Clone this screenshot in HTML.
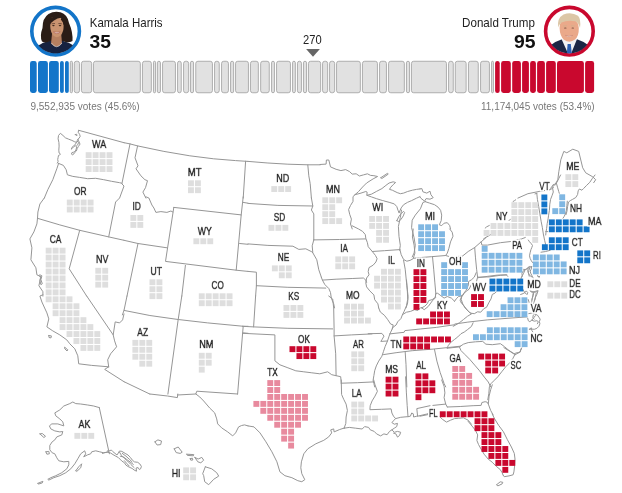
<!DOCTYPE html>
<html lang="en"><head><meta charset="utf-8"><title>Election results map</title>
<style>
html,body{margin:0;padding:0;background:#fff;}
body{width:622px;height:493px;overflow:hidden;position:relative;font-family:"Liberation Sans",Arial,sans-serif;}
svg{position:absolute;left:0;top:0;display:block}
.lb{font-family:"Liberation Sans",Arial,sans-serif;font-size:10.1px;fill:#222;text-anchor:middle;font-weight:400}
.lh{stroke:#fff;stroke-width:2.4px;stroke-linejoin:round;fill:#fff}
.lt{stroke:#222;stroke-width:0.68px;stroke-linejoin:round}
.bd{fill:none;stroke:#969696;stroke-width:1;stroke-linejoin:round;stroke-linecap:round}
.nm{font-size:12.4px;fill:#222}
.ev{font-size:19px;font-weight:700;fill:#111}
.vt{font-size:11.6px;fill:#777}
</style></head><body>
<svg width="622" height="493" viewBox="0 0 622 493">

<defs>
<clipPath id="cl"><circle cx="55.6" cy="31.2" r="22.3"/></clipPath>
<clipPath id="cr"><circle cx="569.4" cy="31.2" r="22.3"/></clipPath>
<filter id="bl" x="-10%" y="-10%" width="120%" height="120%"><feGaussianBlur stdDeviation="0.55"/></filter>
<filter id="halo" x="-30%" y="-30%" width="160%" height="160%"><feMorphology in="SourceAlpha" operator="dilate" radius="1.1" result="d"/><feGaussianBlur in="d" stdDeviation="0.35" result="b"/><feComponentTransfer in="b" result="a"><feFuncA type="linear" slope="3"/></feComponentTransfer><feFlood flood-color="#fff"/><feComposite in2="a" operator="in" result="w"/><feMerge><feMergeNode in="w"/><feMergeNode in="SourceGraphic"/></feMerge></filter>
</defs>
<circle cx="55.6" cy="31.2" r="23.8" fill="#fff" stroke="#1375c9" stroke-width="3.6"/>
<g clip-path="url(#cl)"><g filter="url(#bl)">
<path d="M35 58 L36 47 Q43 42 50 40.5 L62 40.5 Q70 42.5 76 47 L77 58 Z" fill="#18233f"/>
<path d="M42 41.5 Q39.5 36 42.5 28 Q42.5 18 48.5 14 Q54 10.8 60.5 12.3 Q67.5 14.5 69 23 Q73 32 72.5 41 Q68 43.5 63 41 L50 41 Q46 43.5 42 41.5 Z" fill="#2a1c18"/>
<path d="M52 34 L51 43.5 Q56.5 50 62 43.5 L61.2 34 Z" fill="#b57f60"/>
<path d="M50.2 26 Q50 17.5 56 16.2 Q63 16 63.6 25.5 Q63.8 32 60.5 35.6 Q57 38.6 53.6 35.8 Q50.4 32.5 50.2 26 Z" fill="#c9936f"/>
<path d="M49.6 25 Q50 16 56.5 15.2 Q60 15 62 17.5 Q57 18.2 54 20.5 Q51 22.5 49.6 25 Z" fill="#2a1c18"/>
<path d="M62 17.5 Q64.6 20.5 64.3 26 Q63 21.5 60.8 19.5 Z" fill="#2a1c18"/>
<ellipse cx="53.4" cy="25.6" rx="1.3" ry="0.6" fill="#3a241c"/><ellipse cx="60" cy="25.6" rx="1.3" ry="0.6" fill="#3a241c"/>
<path d="M51.6 23.8 L55 23.5 M58.4 23.5 L61.8 23.8" stroke="#3a241c" stroke-width="0.6" fill="none"/>
<path d="M53.4 31.8 Q56.8 35.4 60.2 31.8 Q56.8 32.8 53.4 31.8 Z" fill="#f6ebe6" stroke="#a8544e" stroke-width="0.5"/>
<path d="M51.5 43 Q56.5 50.5 62 43" fill="none" stroke="#cfd3da" stroke-width="0.7"/>
</g></g>
<circle cx="569.4" cy="31.2" r="23.8" fill="#fff" stroke="#c9082e" stroke-width="3.6"/>
<g clip-path="url(#cr)"><g filter="url(#bl)">
<path d="M548 58 L549.5 46 Q556 41 562 39.3 L577 39.3 Q584 41.5 589.5 46 L591 58 Z" fill="#1b2645"/>
<path d="M561.5 39 L568 53.5 L571.2 53.5 L577 39 Z" fill="#f2f2f4"/>
<path d="M567.6 44 L570.8 44 L571.9 54 L566.8 54 Z" fill="#2b5fb3"/>
<path d="M559.6 28 Q559.3 19 568 18.5 Q578.6 18.5 578.8 28 Q579 36 575 39.6 Q569.5 43.6 564 39.8 Q559.8 36 559.6 28 Z" fill="#eaa98a"/>
<path d="M558.2 27.5 Q556.8 18 563.5 14.4 Q571.5 11.6 578 15.8 Q581.2 19 580 28 Q578.6 22.5 575 21.3 Q567 20 561.5 22.6 Q559.2 24.5 558.2 27.5 Z" fill="#dcc6a6"/>
<ellipse cx="565.3" cy="27.9" rx="1.3" ry="0.5" fill="#7a5140"/><ellipse cx="572.8" cy="27.9" rx="1.3" ry="0.5" fill="#7a5140"/>
<path d="M563.2 26 L567 25.8 M571 25.8 L574.8 26" stroke="#cdb08a" stroke-width="0.7" fill="none"/>
<path d="M565.4 35.4 Q569 38 572.8 35.4 Q569 36.3 565.4 35.4 Z" fill="#f9efe9" stroke="#c27a68" stroke-width="0.4"/>
</g></g>
<text class="nm" x="89.8" y="26.7" textLength="72.8" lengthAdjust="spacingAndGlyphs">Kamala Harris</text>
<text class="ev" x="89.6" y="47.6" textLength="21.4" lengthAdjust="spacingAndGlyphs">35</text>
<text class="nm" x="462.1" y="26.7" textLength="72.8" lengthAdjust="spacingAndGlyphs">Donald Trump</text>
<text class="ev" x="514" y="47.6" textLength="21.6" lengthAdjust="spacingAndGlyphs">95</text>
<text x="303.1" y="43.8" font-size="12.4" fill="#222" textLength="18.6" lengthAdjust="spacingAndGlyphs">270</text>
<path d="M306.1 48.9 L319.9 48.9 L313 56.7 Z" fill="#666"/>
<text class="vt" x="30.4" y="110" textLength="109.2" lengthAdjust="spacingAndGlyphs">9,552,935 votes (45.6%)</text>
<text class="vt" x="481" y="110" textLength="113.6" lengthAdjust="spacingAndGlyphs">11,174,045 votes (53.4%)</text>

<rect x="30.00" y="61" width="6.70" height="32" rx="2.40" fill="#1375c9"/>
<rect x="38.00" y="61" width="9.90" height="32" rx="2.40" fill="#1375c9"/>
<rect x="49.00" y="61" width="9.80" height="32" rx="2.40" fill="#1375c9"/>
<rect x="60.00" y="61" width="3.80" height="32" rx="1.90" fill="#1375c9"/>
<rect x="65.00" y="61" width="3.80" height="32" rx="1.90" fill="#1375c9"/>
<rect x="70.25" y="61.25" width="2.20" height="31.5" rx="1.15" fill="#e1e1e1" stroke="#9e9e9e" stroke-width="0.8"/>
<rect x="74.25" y="61.25" width="5.30" height="31.5" rx="2.20" fill="#e1e1e1" stroke="#9e9e9e" stroke-width="0.8"/>
<rect x="81.45" y="61.25" width="10.20" height="31.5" rx="2.20" fill="#e1e1e1" stroke="#9e9e9e" stroke-width="0.8"/>
<rect x="93.45" y="61.25" width="46.90" height="31.5" rx="2.20" fill="#e1e1e1" stroke="#9e9e9e" stroke-width="0.8"/>
<rect x="142.45" y="61.25" width="8.90" height="31.5" rx="2.20" fill="#e1e1e1" stroke="#9e9e9e" stroke-width="0.8"/>
<rect x="153.45" y="61.25" width="2.10" height="31.5" rx="1.10" fill="#e1e1e1" stroke="#9e9e9e" stroke-width="0.8"/>
<rect x="157.35" y="61.25" width="3.10" height="31.5" rx="1.60" fill="#e1e1e1" stroke="#9e9e9e" stroke-width="0.8"/>
<rect x="162.55" y="61.25" width="12.90" height="31.5" rx="2.20" fill="#e1e1e1" stroke="#9e9e9e" stroke-width="0.8"/>
<rect x="177.55" y="61.25" width="3.70" height="31.5" rx="1.90" fill="#e1e1e1" stroke="#9e9e9e" stroke-width="0.8"/>
<rect x="183.55" y="61.25" width="5.10" height="31.5" rx="2.20" fill="#e1e1e1" stroke="#9e9e9e" stroke-width="0.8"/>
<rect x="190.45" y="61.25" width="3.10" height="31.5" rx="1.60" fill="#e1e1e1" stroke="#9e9e9e" stroke-width="0.8"/>
<rect x="195.75" y="61.25" width="16.70" height="31.5" rx="2.20" fill="#e1e1e1" stroke="#9e9e9e" stroke-width="0.8"/>
<rect x="214.55" y="61.25" width="4.70" height="31.5" rx="2.20" fill="#e1e1e1" stroke="#9e9e9e" stroke-width="0.8"/>
<rect x="221.55" y="61.25" width="6.90" height="31.5" rx="2.20" fill="#e1e1e1" stroke="#9e9e9e" stroke-width="0.8"/>
<rect x="230.55" y="61.25" width="3.10" height="31.5" rx="1.60" fill="#e1e1e1" stroke="#9e9e9e" stroke-width="0.8"/>
<rect x="235.55" y="61.25" width="12.90" height="31.5" rx="2.20" fill="#e1e1e1" stroke="#9e9e9e" stroke-width="0.8"/>
<rect x="250.45" y="61.25" width="7.90" height="31.5" rx="2.20" fill="#e1e1e1" stroke="#9e9e9e" stroke-width="0.8"/>
<rect x="260.65" y="61.25" width="8.60" height="31.5" rx="2.20" fill="#e1e1e1" stroke="#9e9e9e" stroke-width="0.8"/>
<rect x="271.55" y="61.25" width="2.90" height="31.5" rx="1.50" fill="#e1e1e1" stroke="#9e9e9e" stroke-width="0.8"/>
<rect x="276.55" y="61.25" width="13.90" height="31.5" rx="2.20" fill="#e1e1e1" stroke="#9e9e9e" stroke-width="0.8"/>
<rect x="292.55" y="61.25" width="2.80" height="31.5" rx="1.45" fill="#e1e1e1" stroke="#9e9e9e" stroke-width="0.8"/>
<rect x="297.45" y="61.25" width="4.00" height="31.5" rx="2.05" fill="#e1e1e1" stroke="#9e9e9e" stroke-width="0.8"/>
<rect x="303.45" y="61.25" width="3.10" height="31.5" rx="1.60" fill="#e1e1e1" stroke="#9e9e9e" stroke-width="0.8"/>
<rect x="308.45" y="61.25" width="12.20" height="31.5" rx="2.20" fill="#e1e1e1" stroke="#9e9e9e" stroke-width="0.8"/>
<rect x="322.55" y="61.25" width="5.10" height="31.5" rx="2.20" fill="#e1e1e1" stroke="#9e9e9e" stroke-width="0.8"/>
<rect x="329.55" y="61.25" width="5.10" height="31.5" rx="2.20" fill="#e1e1e1" stroke="#9e9e9e" stroke-width="0.8"/>
<rect x="336.55" y="61.25" width="23.80" height="31.5" rx="2.20" fill="#e1e1e1" stroke="#9e9e9e" stroke-width="0.8"/>
<rect x="362.45" y="61.25" width="15.00" height="31.5" rx="2.20" fill="#e1e1e1" stroke="#9e9e9e" stroke-width="0.8"/>
<rect x="379.55" y="61.25" width="6.90" height="31.5" rx="2.20" fill="#e1e1e1" stroke="#9e9e9e" stroke-width="0.8"/>
<rect x="388.55" y="61.25" width="15.80" height="31.5" rx="2.20" fill="#e1e1e1" stroke="#9e9e9e" stroke-width="0.8"/>
<rect x="406.45" y="61.25" width="3.10" height="31.5" rx="1.60" fill="#e1e1e1" stroke="#9e9e9e" stroke-width="0.8"/>
<rect x="411.45" y="61.25" width="35.00" height="31.5" rx="2.20" fill="#e1e1e1" stroke="#9e9e9e" stroke-width="0.8"/>
<rect x="448.55" y="61.25" width="4.70" height="31.5" rx="2.20" fill="#e1e1e1" stroke="#9e9e9e" stroke-width="0.8"/>
<rect x="455.25" y="61.25" width="10.90" height="31.5" rx="2.20" fill="#e1e1e1" stroke="#9e9e9e" stroke-width="0.8"/>
<rect x="468.45" y="61.25" width="9.80" height="31.5" rx="2.20" fill="#e1e1e1" stroke="#9e9e9e" stroke-width="0.8"/>
<rect x="480.55" y="61.25" width="8.90" height="31.5" rx="2.20" fill="#e1e1e1" stroke="#9e9e9e" stroke-width="0.8"/>
<rect x="491.55" y="61.25" width="1.90" height="31.5" rx="1.00" fill="#e1e1e1" stroke="#9e9e9e" stroke-width="0.8"/>
<rect x="495.10" y="61" width="4.60" height="32" rx="2.30" fill="#c9082e"/>
<rect x="501.10" y="61" width="9.70" height="32" rx="2.40" fill="#c9082e"/>
<rect x="512.20" y="61" width="8.70" height="32" rx="2.40" fill="#c9082e"/>
<rect x="522.10" y="61" width="6.80" height="32" rx="2.40" fill="#c9082e"/>
<rect x="530.10" y="61" width="5.80" height="32" rx="2.40" fill="#c9082e"/>
<rect x="537.10" y="61" width="7.80" height="32" rx="2.40" fill="#c9082e"/>
<rect x="546.10" y="61" width="9.70" height="32" rx="2.40" fill="#c9082e"/>
<rect x="557.00" y="61" width="26.90" height="32" rx="2.40" fill="#c9082e"/>
<rect x="585.10" y="61" width="9.00" height="32" rx="2.40" fill="#c9082e"/>
<g class="bd">
<path d="M78.7 130.3 L124.0 142.7"/>
<path d="M78.6 130.5 L78.2 132.3 L79.6 134.3 L80.2 136.4 L79.2 138.0 L78.0 139.2 L78.6 140.8 L80.0 144.1 L78.4 146.5 L77.2 148.5 L76.4 151.0 L74.3 153.0 L72.7 155.0 L71.5 154.2 L71.9 152.6 L73.5 152.2 L75.2 151.4 L76.1 149.3 L76.8 146.9 L75.2 145.7 L73.5 146.9 L71.9 148.5 L71.5 149.3 L71.7 147.7 L73.5 145.9 L75.3 144.5 L76.4 142.4 L77.2 140.8 L78.0 139.2"/>
<path d="M76.4 142.4 L74.3 141.6 L71.9 140.4 L68.7 139.2 L65.4 137.8 L63.0 135.5 L60.4 133.3 L58.5 135.5 L58.1 138.8 L58.9 142.4 L59.1 146.1 L58.8 150.2 L59.1 153.0 L60.5 154.2 L59.6 154.9 L58.5 155.4 L58.1 157.5 L57.7 159.5 L58.1 161.5 L57.3 163.1"/>
<path d="M75.3 134.6 L76.4 134.2 L77.2 135.2 L76.1 135.5 L75.3 134.6"/>
<path d="M77.2 141.2 L78.4 142.4 L78.0 144.5 L76.8 145.3"/>
<path d="M58.6 163.4 L63.4 165.4 L66.2 169.8 L67.4 174.8 L72.8 176.4 L79.7 177.4 L87.7 178.7 L95.7 178.3 L103.7 179.7 L111.6 181.3 L119.6 182.7 L122.0 183.3"/>
<path d="M58.6 163.4 L56.8 168.8 L52.8 179.7 L47.8 189.7 L44.3 198.1"/>
<path d="M124.0 142.7 L130.0 143.9 L137.6 145.9 L163.9 151.4 L189.8 155.8 L213.7 158.8 L235.6 160.6 L248.0 161.4"/>
<path d="M130.0 143.9 L122.0 183.3"/>
<path d="M137.6 145.9 L135.0 157.8 L138.0 165.8 L136.0 168.8 L140.9 175.8 L144.9 179.7 L147.5 180.7 L145.5 187.7 L142.9 192.1 L145.9 198.1"/>
<path d="M245.6 161.2 L243.2 198.1"/>
<path d="M248.0 161.4 L267.9 163.0 L287.9 164.2 L307.8 164.8 L320.2 164.8"/>
<path d="M307.8 164.8 L308.8 175.8 L310.2 183.7 L311.4 198.1"/>
<path d="M554.8 185.3 L557.8 179.7 L558.8 171.8 L560.8 159.8 L563.8 151.4 L566.8 152.8 L572.8 149.2 L578.7 151.4 L582.7 167.8 L585.7 172.8 L592.7 176.8 L595.7 179.7 L593.7 182.7"/>
<path d="M517.9 198.1 L527.9 193.7 L539.9 191.3 L550.2 189.7 L553.4 187.7"/>
<path d="M44.3 198.0 L39.9 204.0 L37.9 212.0 L37.5 218.3"/>
<path d="M37.5 218.3 L59.8 224.9 L79.7 230.3 L108.7 236.9 L124.0 240.3"/>
<path d="M122.0 184.0 L124.0 186.0 L119.6 198.0 L115.6 202.0 L114.6 207.0 L108.7 236.9"/>
<path d="M37.5 218.3 L36.9 223.9 L33.9 231.9 L29.9 238.9 L31.9 247.8 L30.9 259.8 L35.9 267.8 L36.9 274.8 L40.9 276.7 L38.9 285.7 L42.9 291.7 L42.9 296.1"/>
<path d="M79.7 230.3 L69.2 268.8 L86.7 296.1"/>
<path d="M145.9 196.8 L148.9 198.0 L151.9 205.0 L153.9 208.0 L155.9 212.4 L160.9 211.6 L166.9 212.4 L170.9 211.0 L172.8 212.0"/>
<path d="M173.8 207.4 L241.2 214.9 L236.2 270.2 L165.5 261.4 L173.8 207.4"/>
<path d="M243.2 196.8 L241.2 214.9"/>
<path d="M243.2 202.4 L248.0 203.2"/>
<path d="M239.6 243.5 L248.0 244.3"/>
<path d="M124.0 240.3 L138.0 243.5 L166.9 247.8"/>
<path d="M138.0 243.5 L127.0 296.1"/>
<path d="M185.4 265.4 L181.8 296.1"/>
<path d="M236.2 270.2 L248.0 271.4"/>
<path d="M248.0 203.4 L277.9 205.4 L312.8 206.0"/>
<path d="M311.4 198.0 L312.8 206.0 L311.4 210.0 L313.8 213.9 L313.8 239.9"/>
<path d="M248.0 243.9 L267.9 245.4 L292.9 246.2 L298.8 249.4 L305.8 248.8 L311.8 251.8 L312.8 252.8"/>
<path d="M313.8 239.9 L339.7 239.5 L365.6 238.9"/>
<path d="M313.8 239.9 L312.2 245.8 L312.8 252.8 L316.8 259.8 L318.8 269.8 L321.4 277.3"/>
<path d="M248.0 271.4 L256.4 272.2 L256.4 285.7"/>
<path d="M256.4 285.7 L287.9 287.3 L325.8 288.1"/>
<path d="M256.4 285.7 L255.6 296.1"/>
<path d="M42.9 294.8 L39.9 296.0 L41.9 302.0 L46.9 312.9 L48.8 318.9 L46.9 326.9 L52.8 330.9 L59.8 334.9 L66.8 339.9 L69.8 343.8 L74.8 348.8 L77.8 355.8 L78.7 363.8 L91.7 365.4 L108.7 366.8"/>
<path d="M108.7 366.8 L107.7 359.8 L110.6 353.8 L116.6 346.8 L114.6 340.9 L113.2 334.9"/>
<path d="M86.7 296.0 L113.2 334.9 L115.2 321.9 L119.6 322.9 L122.6 319.9 L124.0 313.9"/>
<path d="M108.7 366.8 L104.7 369.4 L124.0 381.7"/>
<path d="M124.0 310.4 L149.9 315.5 L178.2 319.5 L207.7 322.9 L243.6 326.3 L248.0 326.3"/>
<path d="M181.8 296.0 L178.2 319.5 L167.9 394.1"/>
<path d="M243.2 326.3 L237.6 394.1"/>
<path d="M243.2 332.9 L248.0 333.3"/>
<path d="M124.0 381.7 L149.9 394.1"/>
<path d="M127.0 296.0 L124.0 310.4 L122.4 314.9"/>
<path d="M255.6 296.0 L253.6 326.9"/>
<path d="M242.4 326.3 L253.6 326.9 L287.9 328.3 L332.7 328.9"/>
<path d="M328.7 296.0 L332.7 299.0 L333.7 308.0 L334.1 328.9 L334.1 335.9 L335.7 353.8 L336.1 375.7"/>
<path d="M334.1 335.9 L351.7 334.9 L372.0 333.9"/>
<path d="M242.4 333.3 L274.9 334.9 L274.9 360.8 L279.9 364.8 L287.9 367.8 L295.8 370.8 L303.8 371.8 L311.8 372.8 L319.8 373.8 L327.7 371.8 L331.7 374.7 L336.1 375.7 L340.7 376.7 L341.3 383.7"/>
<path d="M149.9 394.0 L167.5 396.0 L177.4 397.6 L177.8 394.0"/>
<path d="M177.4 395.0 L195.8 394.0 L196.8 391.2 L237.6 394.0"/>
<path d="M195.8 394.0 L199.8 397.0 L203.7 401.0 L209.7 408.0 L214.7 412.9 L216.7 418.9 L217.7 423.9 L221.7 427.9 L227.7 431.9 L232.7 435.9 L235.6 432.9 L238.6 426.9 L241.6 425.5 L244.6 424.9 L248.0 425.9"/>
<path d="M248.0 425.9 L254.0 426.9 L260.0 432.9 L265.9 441.8 L271.9 451.8 L276.9 461.8 L279.9 471.8 L284.9 475.7 L291.9 477.7 L297.8 480.7 L301.8 481.7 L304.8 479.7 L301.8 473.7 L300.8 467.8 L301.4 461.8 L303.8 453.8 L307.8 448.8 L315.8 443.8 L323.8 440.3 L328.7 436.9 L331.7 432.9 L330.7 429.9 L333.7 428.9 L334.1 431.9 L339.7 429.5 L344.7 427.9"/>
<path d="M99.3 407.6 L93.7 406.0 L87.7 405.0 L80.7 404.0 L75.8 403.6 L72.8 402.0 L69.8 403.6 L63.8 406.0 L59.8 409.9 L54.8 412.9 L55.8 415.9 L59.8 418.9 L62.8 421.9 L63.8 425.9 L57.8 423.9 L51.8 423.9 L49.4 425.9 L50.8 428.9 L54.8 430.9 L59.8 431.9 L62.8 431.5 L61.8 434.9 L56.8 436.9 L54.8 439.9 L52.2 441.8 L49.8 445.4 L49.8 449.8 L52.2 452.8 L54.8 453.8 L56.8 457.8 L58.8 460.8 L63.8 461.8 L68.8 461.4 L68.8 464.8 L66.8 468.8 L61.8 472.7 L55.8 475.7 L50.8 477.7 L47.8 479.3 L48.8 480.1 L53.8 477.7 L59.8 475.7 L65.8 472.7 L70.8 468.8 L74.8 463.8 L77.8 458.8 L80.7 453.8 L84.7 450.8 L85.7 453.8 L83.7 456.8 L87.7 454.8 L90.7 453.8 L91.7 451.8 L95.7 450.8 L99.7 451.8 L103.7 452.8 L108.7 451.8"/>
<path d="M99.3 407.6 L108.7 450.8 L109.4 453.8"/>
<path d="M75.8 470.8 L78.7 466.8 L81.7 463.8 L80.7 467.8 L76.8 471.4 L75.8 470.8"/>
<path d="M39.9 433.9 L42.3 433.5 L45.5 436.3 L43.9 437.5 L39.9 433.9"/>
<path d="M45.9 451.8 L48.8 451.4 L49.4 453.8 L46.9 454.2 L45.9 451.8"/>
<path d="M37.9 483.3 L42.9 481.3 L42.3 482.9 L38.3 484.1 L37.9 483.3"/>
<path d="M154.9 441.8 L157.9 439.9 L161.5 441.0 L160.7 444.6 L157.1 445.0 L154.9 441.8"/>
<path d="M174.2 448.8 L178.2 447.0 L182.2 452.2 L180.2 453.4 L176.2 452.6 L174.2 448.8"/>
<path d="M186.8 454.2 L193.8 454.6 L193.4 455.8 L187.4 455.4 L186.8 454.2"/>
<path d="M190.2 458.6 L192.4 458.2 L192.8 460.0 L190.8 460.2 L190.2 458.6"/>
<path d="M194.8 457.4 L198.2 459.0 L201.8 457.4 L203.7 460.2 L200.8 462.8 L197.8 461.8 L194.8 457.4"/>
<path d="M205.3 466.8 L211.7 468.8 L216.7 472.7 L218.7 476.1 L213.7 479.3 L208.7 484.7 L204.7 481.7 L203.7 475.7 L202.7 473.7 L205.3 466.8"/>
<path d="M320.0 164.5 L326.1 164.1 L326.4 160.0 L328.8 160.0 L330.5 166.9 L336.1 169.3 L340.9 170.6 L345.7 169.6 L349.7 171.7 L352.2 174.1 L356.2 173.8 L359.4 176.0 L363.4 174.9 L367.4 173.8 L370.6 175.4 L373.9 175.7 L377.6 176.5 L373.1 178.9 L366.6 183.0 L362.6 187.0 L358.6 191.5 L355.0 194.7"/>
<path d="M355.0 194.7 L353.0 196.6 L353.0 201.4 L350.5 205.5 L348.6 209.5 L349.7 214.3 L351.4 219.1 L350.5 224.0 L352.2 228.9"/>
<path d="M355.0 194.7 L361.0 193.1 L365.8 191.5 L367.1 192.1 L366.9 195.3 L371.4 194.2 L376.3 191.5 L381.9 188.6 L385.9 185.4 L389.1 183.0 L393.2 181.8 L395.6 182.5 L393.2 184.6 L390.7 187.3 L389.5 189.4 L392.3 190.2 L397.2 192.6 L400.4 193.7 L403.6 193.1 L407.6 191.5 L412.4 190.2 L416.5 189.4 L420.0 188.9"/>
<path d="M366.9 195.3 L371.4 196.9 L376.3 198.6 L382.7 200.6 L389.1 202.3 L394.3 203.9 L396.8 206.6 L398.0 210.3 L399.1 212.7"/>
<path d="M396.8 220.7 L398.8 216.7 L401.2 213.5 L403.6 211.4 L404.6 212.4 L403.3 215.9 L401.2 219.1 L398.8 221.5 L396.8 220.7"/>
<path d="M399.1 212.7 L401.2 207.9 L403.6 204.7 L407.6 202.3 L411.6 200.6 L416.5 198.2 L420.0 196.6"/>
<path d="M380.8 177.7 L387.5 173.3 L388.3 174.1 L381.9 178.5 L380.8 177.7"/>
<path d="M420.0 188.9 L421.9 188.6 L422.9 191.8 L426.8 193.1 L430.0 191.2 L430.9 194.7 L433.2 197.7 L430.0 199.2 L426.1 198.6 L424.5 201.1 L420.8 198.2 L420.0 196.9"/>
<path d="M425.6 201.8 L429.6 203.1 L434.5 204.7 L438.0 207.1 L440.6 210.3 L441.7 215.1 L441.2 220.7 L439.3 224.8 L441.7 225.6 L444.1 223.2 L447.3 222.7 L449.7 225.6 L450.5 228.9"/>
<path d="M425.7 201.5 L422.9 202.5 L420.4 208.8 L415.3 215.1 L412.2 220.2 L411.6 227.7 L414.1 237.8 L415.3 245.3 L414.1 252.9 L412.2 257.0"/>
<path d="M401.5 210.1 L400.3 217.6 L398.4 226.4 L399.0 236.5 L400.3 245.3 L399.6 250.3"/>
<path d="M352.2 225.8 L358.6 229.0 L362.6 231.4 L365.3 234.6 L365.8 238.3 L367.4 242.7 L368.2 246.7 L372.3 251.5 L375.5 255.5 L377.1 258.7 L375.9 262.0 L373.1 265.2 L369.0 267.6 L368.2 271.6 L369.0 274.8 L366.6 278.0 L365.8 282.9 L366.6 286.9 L369.8 290.9 L373.9 294.9 L374.7 299.7 L377.9 303.8 L378.7 307.9"/>
<path d="M372.3 251.5 L384.3 250.7 L399.9 249.6"/>
<path d="M399.9 249.6 L401.2 254.7 L403.6 259.5 L406.8 261.2 L410.0 260.4 L413.2 258.7 L414.9 253.1 L414.1 245.1 L412.4 237.0 L413.2 229.0"/>
<path d="M403.6 260.4 L405.2 269.2 L406.8 285.3 L408.1 296.5 L407.6 303.0 L406.0 307.9"/>
<path d="M322.4 280.1 L336.1 279.2 L352.2 278.5 L363.4 278.0 L365.8 280.1 L366.6 282.4"/>
<path d="M321.3 277.2 L322.4 280.1 L324.8 284.5 L328.8 288.5 L330.5 292.5 L331.3 298.1 L333.7 303.8 L334.5 307.9"/>
<path d="M449.7 229.0 L452.2 232.2 L453.0 236.2 L450.5 241.9 L448.9 248.3 L447.3 253.1 L445.7 255.5"/>
<path d="M413.6 258.3 L420.0 257.6 L431.3 256.7 L445.7 255.5 L449.7 256.7 L456.2 256.7 L462.6 256.0 L468.2 251.5 L474.7 247.5 L481.1 241.9 L486.7 237.0 L490.7 234.6"/>
<path d="M432.5 256.7 L433.7 269.2 L434.8 282.1 L435.8 293.3 L435.3 297.3"/>
<path d="M474.7 247.5 L475.5 257.9 L476.6 269.2 L477.6 277.2"/>
<path d="M477.6 277.2 L489.1 276.9 L500.4 275.3 L506.8 274.8"/>
<path d="M481.1 241.9 L481.9 245.1 L487.5 245.1 L500.4 242.7 L510.8 241.5 L521.3 239.0 L525.3 237.5"/>
<path d="M477.6 277.2 L476.3 282.1 L473.9 285.3 L471.4 284.5 L469.0 289.3 L466.6 290.9 L464.2 293.3 L462.6 295.7 L458.6 296.5 L456.2 298.9 L454.6 301.3"/>
<path d="M454.6 301.3 L451.4 298.1 L447.3 296.5 L444.1 298.1 L440.9 295.7 L437.7 293.3 L435.8 293.3 L435.3 297.3 L432.1 299.7 L428.8 300.5 L427.2 303.8 L424.8 306.2 L421.6 307.9"/>
<path d="M406.5 280.0 L407.3 289.6 L407.7 299.3 L406.5 305.7 L404.1 311.4 L402.5 314.6"/>
<path d="M402.5 314.6 L406.5 312.2 L410.5 311.4 L414.6 309.7 L417.8 310.5 L421.0 307.3 L424.2 309.7 L428.2 306.5 L432.3 300.9 L435.5 297.7"/>
<path d="M402.5 314.6 L400.9 318.6 L397.7 321.8 L396.1 325.0 L392.9 327.4 L392.1 329.0"/>
<path d="M462.0 295.3 L461.2 299.3 L462.8 304.1 L465.2 308.1 L469.2 312.2 L471.6 313.8 L467.6 316.2 L463.6 319.4 L459.6 322.6 L455.6 325.0 L453.2 326.3"/>
<path d="M389.6 333.9 L404.1 332.3 L404.9 330.6 L420.2 329.0 L436.3 327.4 L454.9 324.7"/>
<path d="M383.5 354.6 L396.1 352.7 L412.2 350.7 L433.1 349.1 L448.3 347.5 L460.4 346.2"/>
<path d="M461.4 302.8 L464.0 306.0 L467.2 309.9 L470.4 313.1 L474.3 313.7 L477.5 311.8 L480.7 312.2 L483.9 308.6 L486.5 307.3 L489.1 302.2 L491.0 298.9 L492.3 294.4 L494.9 293.2 L496.2 291.9"/>
<path d="M478.2 277.7 L487.2 276.4 L497.4 275.1 L506.4 274.9 L507.7 276.4"/>
<path d="M476.2 272.6 L474.3 277.1 L471.7 279.6 L468.5 281.6 L468.5 284.8 L465.9 290.6 L463.4 293.8 L461.4 297.0 L460.1 300.2 L461.4 302.8"/>
<path d="M455.0 324.0 L467.9 322.1 L487.2 319.9 L509.0 318.2 L527.0 316.9"/>
<path d="M378.7 308.0 L380.3 312.0 L384.3 315.2 L387.5 319.3 L390.7 324.1 L393.2 324.9 L392.3 328.9 L390.7 332.1 L389.1 336.1 L387.5 341.0 L385.1 346.6 L383.5 351.4 L381.9 356.2 L378.7 361.1 L376.3 365.9 L374.7 370.7 L373.9 375.5 L373.1 380.3 L373.9 383.6 L374.7 386.9"/>
<path d="M368.2 333.7 L381.9 333.4 L384.0 336.1 L381.9 339.8 L380.8 341.4 L387.5 341.0"/>
<path d="M405.2 352.2 L406.0 364.3 L406.8 386.9"/>
<path d="M434.5 349.5 L436.9 361.1 L440.1 372.3 L444.1 383.6 L445.7 386.9"/>
<path d="M447.3 348.2 L459.4 346.9 L463.4 344.2 L468.2 342.6 L475.5 341.8 L482.7 341.4 L485.9 344.2 L492.3 344.7 L500.4 343.7 L504.4 346.6 L510.0 351.4 L514.9 354.6"/>
<path d="M459.4 346.9 L461.0 350.6 L465.0 354.6 L469.8 359.4 L474.7 365.1 L479.5 370.7 L484.3 377.1 L488.3 382.0 L490.7 386.9"/>
<path d="M341.3 380.0 L341.3 383.2 L341.6 394.5 L343.7 399.3 L346.1 404.1 L347.4 410.5 L346.1 417.0 L345.8 423.4 L344.1 428.2"/>
<path d="M341.3 383.2 L357.3 382.7 L373.7 381.9"/>
<path d="M344.1 428.2 L349.3 427.4 L355.7 428.2 L362.2 429.0 L364.6 426.6 L368.6 427.4 L370.2 429.8 L374.2 431.4 L376.6 433.9 L380.6 435.9 L383.9 433.9 L387.1 434.7 L389.5 431.4 L391.9 429.8 L394.3 432.3 L397.5 431.4 L400.7 432.3 L399.5 435.5 L397.5 437.1 L395.9 433.9 L393.5 433.1"/>
<path d="M391.9 429.8 L394.3 428.2 L396.7 426.6 L397.5 423.4 L394.3 424.2 L391.9 422.6 L394.0 420.2 L395.6 418.6"/>
<path d="M373.7 380.0 L375.0 384.8 L377.4 391.3 L375.0 396.1 L372.1 400.9 L370.2 405.7 L369.9 409.7 L381.4 409.3 L391.1 408.9 L391.9 413.0 L393.5 416.2 L395.6 418.6 L400.7 417.3 L407.2 416.7 L408.0 416.7 L410.4 416.2 L411.7 413.0 L413.3 413.8 L413.6 417.0 L416.8 416.2 L417.6 416.2 L426.5 414.1 L430.0 413.0"/>
<path d="M405.6 376.8 L406.4 392.9 L407.2 405.7 L408.0 416.7"/>
<path d="M417.6 416.2 L416.8 408.6 L430.0 405.7"/>
<path d="M441.7 380.0 L444.1 386.4 L444.9 392.9 L444.1 397.7 L445.7 404.1 L447.3 407.0"/>
<path d="M432.9 405.4 L445.7 404.1"/>
<path d="M447.3 407.0 L460.2 406.5 L473.1 405.7 L481.1 405.4 L481.9 402.5 L485.1 401.7 L487.2 402.2 L488.3 404.1"/>
<path d="M492.3 384.8 L490.7 389.6 L489.1 396.1 L488.3 404.1 L490.7 410.5 L493.2 415.0"/>
<path d="M420.0 416.2 L428.0 414.6"/>
<path d="M440.1 417.0 L442.5 419.4 L446.5 422.1 L450.5 420.2 L454.6 418.6 L458.6 418.3 L463.4 417.8 L468.2 420.2 L471.4 424.2"/>
<path d="M492.2 414.0 L494.6 418.8 L498.6 425.3 L503.4 431.7 L507.4 439.7 L511.4 447.0 L514.3 453.4 L515.0 459.0 L514.7 465.4 L513.9 471.9 L513.1 474.8 L509.0 475.9 L504.2 476.7 L503.1 475.1"/>
<path d="M468.0 421.2 L472.1 426.1 L475.3 430.1 L477.7 434.9 L476.9 440.5 L478.5 444.5 L481.7 450.2 L484.1 454.2 L488.1 459.0 L492.2 462.2 L496.2 466.3 L500.2 469.5 L502.1 472.7 L503.1 475.1"/>
<path d="M496.7 484.7 L500.2 481.8 L502.8 482.3 L502.1 483.9 L497.8 485.9 L496.7 484.7"/>
<path d="M39.9 274.8 L41.9 275.8 L40.9 279.7 L42.3 283.7 L40.9 284.7 L39.9 280.7 L40.5 277.7 L39.5 275.8"/>
<path d="M48.8 335.5 L51.4 335.9 L51.0 337.9 L49.0 337.5 L48.8 335.5"/>
<path d="M64.8 347.4 L67.8 349.8 L67.0 351.0 L64.6 348.6 L64.8 347.4"/>
<path d="M560.6 175.0 L558.7 178.7 L556.9 182.3 L555.1 184.1 L553.3 184.7 L552.6 188.4 L553.3 192.0 L552.0 195.7 L550.6 199.3 L549.8 204.2 L549.4 210.3 L548.6 215.2 L548.1 218.8 L547.2 223.7 L546.6 228.5 L546.0 232.2 L545.7 235.0"/>
<path d="M556.3 182.9 L557.5 187.2 L558.7 191.4 L559.3 193.3"/>
<path d="M567.3 201.2 L566.9 205.4 L566.4 210.3 L565.4 213.9 L564.2 216.4 L563.0 218.2"/>
<path d="M595.0 175.0 L592.2 178.7 L589.8 182.3 L586.7 185.3 L583.7 188.4 L581.9 190.2 L579.4 189.0 L578.2 190.8 L577.6 194.5 L575.8 197.5 L572.7 199.3 L570.3 200.6 L568.5 202.0 L567.6 206.6 L566.9 211.5 L566.0 214.6"/>
<path d="M550.6 188.4 L553.3 184.7"/>
<path d="M536.8 193.3 L537.4 199.3 L538.7 206.6 L539.9 213.9 L541.1 221.2 L542.3 227.3 L543.5 235.0"/>
<path d="M535.0 193.9 L536.8 193.3"/>
<path d="M545.7 231.6 L547.8 231.6"/>
<path d="M528.3 240.0 L529.5 241.8 L531.3 243.7 L532.5 245.5 L531.9 247.3 L530.9 249.7 L530.1 252.8 L529.5 255.8 L530.1 258.3 L531.3 260.7 L532.5 262.5"/>
<path d="M529.5 266.2 L528.3 267.4 L526.4 269.2 L524.6 270.4 L522.8 271.4 L521.9 273.5 L522.2 275.3 L521.6 276.5 L521.0 278.9"/>
<path d="M541.0 252.2 L545.3 251.6 L550.2 250.3"/>
<path d="M530.1 267.0 L528.9 270.4 L528.3 272.9 L529.5 275.3 L531.7 276.8"/>
<path d="M522.8 289.3 L524.6 292.3 L526.4 294.2"/>
<path d="M530.7 291.1 L534.3 292.3 L537.4 291.7"/>
<path d="M533.1 293.5 L532.5 297.2 L531.9 300.0"/>
<path d="M536.2 293.5 L534.9 300.0"/>
<path d="M537.4 275.9 L539.2 277.1"/>
<path d="M531.7 266.6 L529.2 267.1 L527.2 268.6 L525.1 269.6 L523.6 269.3 L524.6 271.1 L523.6 273.2 L522.6 275.2 L522.1 276.7"/>
<path d="M531.7 266.6 L531.2 269.1 L530.2 271.1 L530.7 273.2 L531.7 275.2 L532.7 277.2 L533.3 278.2"/>
<path d="M528.2 268.1 L527.7 271.1 L528.7 273.7 L529.2 276.2"/>
<path d="M537.8 275.7 L538.8 277.2 L539.8 276.2"/>
<path d="M520.6 294.5 L523.1 293.6 L525.1 292.4 L526.2 290.9 L527.7 292.4 L527.2 294.3"/>
<path d="M530.2 290.9 L531.7 292.4 L533.8 291.9 L535.8 291.2 L538.1 290.6 L536.8 294.5 L535.3 297.5 L534.3 301.0 L533.8 303.6"/>
<path d="M533.8 291.9 L533.3 295.5 L532.2 298.5 L531.7 301.6 L531.2 303.6"/>
<path d="M528.2 299.5 L529.2 302.6 L530.2 305.6"/>
<path d="M528.8 313.6 L531.8 313.1 L534.8 314.1 L537.4 315.1 L538.9 317.2 L540.2 319.2 L539.4 321.7 L539.9 323.8 L538.9 326.3 L536.9 328.3 L534.3 329.3 L531.8 329.1 L529.3 329.3"/>
<path d="M527.7 318.2 L528.3 320.7 L529.8 321.7 L531.8 320.2 L533.8 317.7 L535.4 315.6"/>
<path d="M531.8 320.2 L534.3 321.2 L536.9 320.7 L538.4 321.7 L537.4 323.8"/>
<path d="M529.3 329.3 L531.3 327.8 L531.8 330.4 L532.8 331.9"/>
<path d="M533.3 315.1 L532.8 317.7 L534.3 319.2"/>
<path d="M503.9 347.6 L507.0 349.6 L510.0 351.1 L514.1 353.7 L517.1 352.7 L520.1 352.2 L521.2 348.6"/>
<path d="M521.7 347.9 L519.7 352.3 L514.7 354.9 L512.7 358.8 L509.7 362.8 L505.7 366.8 L501.7 371.8 L497.8 376.8 L493.8 380.8 L490.8 383.8 L489.4 386.7 L488.8 393.7 L487.8 399.7"/>
<path d="M473.1 322.8 L471.4 326.5 L467.4 329.7 L464.2 332.1 L461.0 333.7 L457.8 336.9 L454.6 339.4 L450.5 342.6 L448.1 345.8 L447.3 348.2"/>
<path d="M515.7 199.8 L514.4 200.7 L513.1 201.5"/>
<path d="M509.0 220.6 L510.5 219.1"/>
<path d="M485.2 228.1 L486.7 226.8 L489.3 225.5"/>
<path d="M486.1 237.1 L483.5 239.0"/>
<path d="M543.6 235.2 L544.6 240.3 L545.9 245.5"/>
<path d="M107.3 451.0 L109.7 450.6 L111.4 450.1 L112.6 451.4 L115.0 453.4 L117.0 455.0 L118.3 453.0 L119.5 451.0 L121.9 451.4 L125.2 453.4 L128.0 455.0 L130.4 457.5 L132.5 460.3 L134.5 461.9 L137.7 462.3 L139.8 463.9 L141.4 466.4 L140.6 468.8 L139.4 469.6 L138.1 467.6 L136.1 468.0 L136.5 471.2 L134.1 470.0 L132.1 468.4 L129.2 467.2 L126.0 465.2 L124.4 462.7 L121.9 461.1 L119.9 459.1 L118.3 457.5 L115.8 456.2 L113.0 454.6 L110.6 453.0 L107.3 452.2 L104.1 452.8 L102.4 453.4"/>
<path d="M119.5 452.2 L121.5 455.4 L124.4 458.3 L127.6 461.1 L130.8 464.4 L134.1 467.6"/>
<path d="M120.3 456.2 L123.5 457.0 L126.8 459.5 L130.0 461.9 L133.3 464.4"/>
<path d="M122.3 453.4 L126.0 456.2 L129.2 459.1 L132.1 461.9"/>
<path d="M124.4 460.7 L126.8 463.5 L129.2 466.0"/>
</g>
<g fill="#dedede">
<rect x="85.70" y="152.20" width="5.9" height="5.9"/>
<rect x="92.65" y="152.20" width="5.9" height="5.9"/>
<rect x="99.60" y="152.20" width="5.9" height="5.9"/>
<rect x="106.55" y="152.20" width="5.9" height="5.9"/>
<rect x="85.70" y="159.15" width="5.9" height="5.9"/>
<rect x="92.65" y="159.15" width="5.9" height="5.9"/>
<rect x="99.60" y="159.15" width="5.9" height="5.9"/>
<rect x="106.55" y="159.15" width="5.9" height="5.9"/>
<rect x="85.70" y="166.10" width="5.9" height="5.9"/>
<rect x="92.65" y="166.10" width="5.9" height="5.9"/>
<rect x="99.60" y="166.10" width="5.9" height="5.9"/>
<rect x="106.55" y="166.10" width="5.9" height="5.9"/>
</g>
<g fill="#dedede">
<rect x="66.80" y="199.60" width="5.9" height="5.9"/>
<rect x="73.75" y="199.60" width="5.9" height="5.9"/>
<rect x="80.70" y="199.60" width="5.9" height="5.9"/>
<rect x="87.65" y="199.60" width="5.9" height="5.9"/>
<rect x="66.80" y="206.55" width="5.9" height="5.9"/>
<rect x="73.75" y="206.55" width="5.9" height="5.9"/>
<rect x="80.70" y="206.55" width="5.9" height="5.9"/>
<rect x="87.65" y="206.55" width="5.9" height="5.9"/>
</g>
<g fill="#dedede">
<rect x="45.70" y="247.70" width="5.9" height="5.9"/>
<rect x="52.65" y="247.70" width="5.9" height="5.9"/>
<rect x="59.60" y="247.70" width="5.9" height="5.9"/>
<rect x="45.70" y="254.65" width="5.9" height="5.9"/>
<rect x="52.65" y="254.65" width="5.9" height="5.9"/>
<rect x="59.60" y="254.65" width="5.9" height="5.9"/>
<rect x="45.70" y="261.60" width="5.9" height="5.9"/>
<rect x="52.65" y="261.60" width="5.9" height="5.9"/>
<rect x="59.60" y="261.60" width="5.9" height="5.9"/>
<rect x="45.70" y="268.55" width="5.9" height="5.9"/>
<rect x="52.65" y="268.55" width="5.9" height="5.9"/>
<rect x="59.60" y="268.55" width="5.9" height="5.9"/>
<rect x="45.70" y="275.50" width="5.9" height="5.9"/>
<rect x="52.65" y="275.50" width="5.9" height="5.9"/>
<rect x="59.60" y="275.50" width="5.9" height="5.9"/>
<rect x="45.70" y="282.45" width="5.9" height="5.9"/>
<rect x="52.65" y="282.45" width="5.9" height="5.9"/>
<rect x="59.60" y="282.45" width="5.9" height="5.9"/>
<rect x="45.70" y="289.40" width="5.9" height="5.9"/>
<rect x="52.65" y="289.40" width="5.9" height="5.9"/>
<rect x="59.60" y="289.40" width="5.9" height="5.9"/>
<rect x="45.70" y="296.35" width="5.9" height="5.9"/>
<rect x="52.65" y="296.35" width="5.9" height="5.9"/>
<rect x="59.60" y="296.35" width="5.9" height="5.9"/>
<rect x="66.55" y="296.35" width="5.9" height="5.9"/>
<rect x="52.65" y="303.30" width="5.9" height="5.9"/>
<rect x="59.60" y="303.30" width="5.9" height="5.9"/>
<rect x="66.55" y="303.30" width="5.9" height="5.9"/>
<rect x="73.50" y="303.30" width="5.9" height="5.9"/>
<rect x="52.65" y="310.25" width="5.9" height="5.9"/>
<rect x="59.60" y="310.25" width="5.9" height="5.9"/>
<rect x="66.55" y="310.25" width="5.9" height="5.9"/>
<rect x="73.50" y="310.25" width="5.9" height="5.9"/>
<rect x="59.60" y="317.20" width="5.9" height="5.9"/>
<rect x="66.55" y="317.20" width="5.9" height="5.9"/>
<rect x="73.50" y="317.20" width="5.9" height="5.9"/>
<rect x="80.45" y="317.20" width="5.9" height="5.9"/>
<rect x="59.60" y="324.15" width="5.9" height="5.9"/>
<rect x="66.55" y="324.15" width="5.9" height="5.9"/>
<rect x="73.50" y="324.15" width="5.9" height="5.9"/>
<rect x="80.45" y="324.15" width="5.9" height="5.9"/>
<rect x="87.40" y="324.15" width="5.9" height="5.9"/>
<rect x="66.55" y="331.10" width="5.9" height="5.9"/>
<rect x="73.50" y="331.10" width="5.9" height="5.9"/>
<rect x="80.45" y="331.10" width="5.9" height="5.9"/>
<rect x="87.40" y="331.10" width="5.9" height="5.9"/>
<rect x="94.35" y="331.10" width="5.9" height="5.9"/>
<rect x="73.50" y="338.05" width="5.9" height="5.9"/>
<rect x="80.45" y="338.05" width="5.9" height="5.9"/>
<rect x="87.40" y="338.05" width="5.9" height="5.9"/>
<rect x="94.35" y="338.05" width="5.9" height="5.9"/>
<rect x="80.45" y="345.00" width="5.9" height="5.9"/>
<rect x="87.40" y="345.00" width="5.9" height="5.9"/>
<rect x="94.35" y="345.00" width="5.9" height="5.9"/>
</g>
<g fill="#dedede">
<rect x="95.30" y="267.80" width="5.9" height="5.9"/>
<rect x="102.25" y="267.80" width="5.9" height="5.9"/>
<rect x="95.30" y="274.75" width="5.9" height="5.9"/>
<rect x="102.25" y="274.75" width="5.9" height="5.9"/>
<rect x="95.30" y="281.70" width="5.9" height="5.9"/>
<rect x="102.25" y="281.70" width="5.9" height="5.9"/>
</g>
<g fill="#dedede">
<rect x="130.40" y="215.00" width="5.9" height="5.9"/>
<rect x="137.35" y="215.00" width="5.9" height="5.9"/>
<rect x="130.40" y="221.95" width="5.9" height="5.9"/>
<rect x="137.35" y="221.95" width="5.9" height="5.9"/>
</g>
<g fill="#dedede">
<rect x="188.00" y="180.30" width="5.9" height="5.9"/>
<rect x="194.95" y="180.30" width="5.9" height="5.9"/>
<rect x="188.00" y="187.25" width="5.9" height="5.9"/>
<rect x="194.95" y="187.25" width="5.9" height="5.9"/>
</g>
<g fill="#dedede">
<rect x="193.40" y="238.30" width="5.9" height="5.9"/>
<rect x="200.35" y="238.30" width="5.9" height="5.9"/>
<rect x="207.30" y="238.30" width="5.9" height="5.9"/>
</g>
<g fill="#dedede">
<rect x="149.50" y="279.30" width="5.9" height="5.9"/>
<rect x="156.45" y="279.30" width="5.9" height="5.9"/>
<rect x="149.50" y="286.25" width="5.9" height="5.9"/>
<rect x="156.45" y="286.25" width="5.9" height="5.9"/>
<rect x="149.50" y="293.20" width="5.9" height="5.9"/>
<rect x="156.45" y="293.20" width="5.9" height="5.9"/>
</g>
<g fill="#dedede">
<rect x="198.80" y="293.30" width="5.9" height="5.9"/>
<rect x="205.75" y="293.30" width="5.9" height="5.9"/>
<rect x="212.70" y="293.30" width="5.9" height="5.9"/>
<rect x="219.65" y="293.30" width="5.9" height="5.9"/>
<rect x="226.60" y="293.30" width="5.9" height="5.9"/>
<rect x="198.80" y="300.25" width="5.9" height="5.9"/>
<rect x="205.75" y="300.25" width="5.9" height="5.9"/>
<rect x="212.70" y="300.25" width="5.9" height="5.9"/>
<rect x="219.65" y="300.25" width="5.9" height="5.9"/>
<rect x="226.60" y="300.25" width="5.9" height="5.9"/>
</g>
<g fill="#dedede">
<rect x="132.40" y="339.90" width="5.9" height="5.9"/>
<rect x="139.35" y="339.90" width="5.9" height="5.9"/>
<rect x="146.30" y="339.90" width="5.9" height="5.9"/>
<rect x="132.40" y="346.85" width="5.9" height="5.9"/>
<rect x="139.35" y="346.85" width="5.9" height="5.9"/>
<rect x="146.30" y="346.85" width="5.9" height="5.9"/>
<rect x="132.40" y="353.80" width="5.9" height="5.9"/>
<rect x="139.35" y="353.80" width="5.9" height="5.9"/>
<rect x="146.30" y="353.80" width="5.9" height="5.9"/>
<rect x="139.35" y="360.75" width="5.9" height="5.9"/>
<rect x="146.30" y="360.75" width="5.9" height="5.9"/>
</g>
<g fill="#dedede">
<rect x="198.80" y="352.80" width="5.9" height="5.9"/>
<rect x="205.75" y="352.80" width="5.9" height="5.9"/>
<rect x="198.80" y="359.75" width="5.9" height="5.9"/>
<rect x="205.75" y="359.75" width="5.9" height="5.9"/>
<rect x="198.80" y="366.70" width="5.9" height="5.9"/>
</g>
<g fill="#dedede">
<rect x="271.30" y="186.10" width="5.9" height="5.9"/>
<rect x="278.25" y="186.10" width="5.9" height="5.9"/>
<rect x="285.20" y="186.10" width="5.9" height="5.9"/>
</g>
<g fill="#dedede">
<rect x="268.50" y="224.90" width="5.9" height="5.9"/>
<rect x="275.45" y="224.90" width="5.9" height="5.9"/>
<rect x="282.40" y="224.90" width="5.9" height="5.9"/>
</g>
<g fill="#dedede">
<rect x="271.90" y="265.40" width="5.9" height="5.9"/>
<rect x="278.85" y="265.40" width="5.9" height="5.9"/>
<rect x="285.80" y="265.40" width="5.9" height="5.9"/>
<rect x="278.85" y="272.35" width="5.9" height="5.9"/>
<rect x="285.80" y="272.35" width="5.9" height="5.9"/>
</g>
<g fill="#dedede">
<rect x="283.50" y="305.00" width="5.9" height="5.9"/>
<rect x="290.45" y="305.00" width="5.9" height="5.9"/>
<rect x="297.40" y="305.00" width="5.9" height="5.9"/>
<rect x="283.50" y="311.95" width="5.9" height="5.9"/>
<rect x="290.45" y="311.95" width="5.9" height="5.9"/>
<rect x="297.40" y="311.95" width="5.9" height="5.9"/>
</g>
<g fill="#c9082e">
<rect x="289.50" y="346.20" width="5.9" height="5.9"/>
<rect x="296.45" y="346.20" width="5.9" height="5.9"/>
<rect x="303.40" y="346.20" width="5.9" height="5.9"/>
<rect x="310.35" y="346.20" width="5.9" height="5.9"/>
<rect x="296.45" y="353.15" width="5.9" height="5.9"/>
<rect x="303.40" y="353.15" width="5.9" height="5.9"/>
<rect x="310.35" y="353.15" width="5.9" height="5.9"/>
</g>
<g fill="#e88a9e">
<rect x="267.30" y="380.10" width="5.9" height="5.9"/>
<rect x="274.25" y="380.10" width="5.9" height="5.9"/>
<rect x="267.30" y="387.05" width="5.9" height="5.9"/>
<rect x="274.25" y="387.05" width="5.9" height="5.9"/>
<rect x="267.30" y="394.00" width="5.9" height="5.9"/>
<rect x="274.25" y="394.00" width="5.9" height="5.9"/>
<rect x="281.20" y="394.00" width="5.9" height="5.9"/>
<rect x="288.15" y="394.00" width="5.9" height="5.9"/>
<rect x="295.10" y="394.00" width="5.9" height="5.9"/>
<rect x="302.05" y="394.00" width="5.9" height="5.9"/>
<rect x="253.40" y="400.95" width="5.9" height="5.9"/>
<rect x="260.35" y="400.95" width="5.9" height="5.9"/>
<rect x="267.30" y="400.95" width="5.9" height="5.9"/>
<rect x="274.25" y="400.95" width="5.9" height="5.9"/>
<rect x="281.20" y="400.95" width="5.9" height="5.9"/>
<rect x="288.15" y="400.95" width="5.9" height="5.9"/>
<rect x="295.10" y="400.95" width="5.9" height="5.9"/>
<rect x="302.05" y="400.95" width="5.9" height="5.9"/>
<rect x="260.35" y="407.90" width="5.9" height="5.9"/>
<rect x="267.30" y="407.90" width="5.9" height="5.9"/>
<rect x="274.25" y="407.90" width="5.9" height="5.9"/>
<rect x="281.20" y="407.90" width="5.9" height="5.9"/>
<rect x="288.15" y="407.90" width="5.9" height="5.9"/>
<rect x="295.10" y="407.90" width="5.9" height="5.9"/>
<rect x="302.05" y="407.90" width="5.9" height="5.9"/>
<rect x="267.30" y="414.85" width="5.9" height="5.9"/>
<rect x="274.25" y="414.85" width="5.9" height="5.9"/>
<rect x="281.20" y="414.85" width="5.9" height="5.9"/>
<rect x="288.15" y="414.85" width="5.9" height="5.9"/>
<rect x="295.10" y="414.85" width="5.9" height="5.9"/>
<rect x="302.05" y="414.85" width="5.9" height="5.9"/>
<rect x="274.25" y="421.80" width="5.9" height="5.9"/>
<rect x="281.20" y="421.80" width="5.9" height="5.9"/>
<rect x="288.15" y="421.80" width="5.9" height="5.9"/>
<rect x="295.10" y="421.80" width="5.9" height="5.9"/>
<rect x="281.20" y="428.75" width="5.9" height="5.9"/>
<rect x="288.15" y="428.75" width="5.9" height="5.9"/>
<rect x="281.20" y="435.70" width="5.9" height="5.9"/>
<rect x="288.15" y="435.70" width="5.9" height="5.9"/>
<rect x="288.15" y="442.65" width="5.9" height="5.9"/>
</g>
<g fill="#dedede">
<rect x="322.30" y="197.30" width="5.9" height="5.9"/>
<rect x="329.25" y="197.30" width="5.9" height="5.9"/>
<rect x="336.20" y="197.30" width="5.9" height="5.9"/>
<rect x="322.30" y="204.25" width="5.9" height="5.9"/>
<rect x="329.25" y="204.25" width="5.9" height="5.9"/>
<rect x="322.30" y="211.20" width="5.9" height="5.9"/>
<rect x="329.25" y="211.20" width="5.9" height="5.9"/>
<rect x="322.30" y="218.15" width="5.9" height="5.9"/>
<rect x="329.25" y="218.15" width="5.9" height="5.9"/>
<rect x="336.20" y="218.15" width="5.9" height="5.9"/>
</g>
<g fill="#dedede">
<rect x="335.30" y="256.40" width="5.9" height="5.9"/>
<rect x="342.25" y="256.40" width="5.9" height="5.9"/>
<rect x="349.20" y="256.40" width="5.9" height="5.9"/>
<rect x="335.30" y="263.35" width="5.9" height="5.9"/>
<rect x="342.25" y="263.35" width="5.9" height="5.9"/>
<rect x="349.20" y="263.35" width="5.9" height="5.9"/>
</g>
<g fill="#dedede">
<rect x="344.10" y="303.70" width="5.9" height="5.9"/>
<rect x="351.05" y="303.70" width="5.9" height="5.9"/>
<rect x="358.00" y="303.70" width="5.9" height="5.9"/>
<rect x="344.10" y="310.65" width="5.9" height="5.9"/>
<rect x="351.05" y="310.65" width="5.9" height="5.9"/>
<rect x="358.00" y="310.65" width="5.9" height="5.9"/>
<rect x="344.10" y="317.60" width="5.9" height="5.9"/>
<rect x="351.05" y="317.60" width="5.9" height="5.9"/>
<rect x="358.00" y="317.60" width="5.9" height="5.9"/>
<rect x="364.95" y="317.60" width="5.9" height="5.9"/>
</g>
<g fill="#dedede">
<rect x="351.30" y="351.40" width="5.9" height="5.9"/>
<rect x="358.25" y="351.40" width="5.9" height="5.9"/>
<rect x="351.30" y="358.35" width="5.9" height="5.9"/>
<rect x="358.25" y="358.35" width="5.9" height="5.9"/>
<rect x="351.30" y="365.30" width="5.9" height="5.9"/>
<rect x="358.25" y="365.30" width="5.9" height="5.9"/>
</g>
<g fill="#dedede">
<rect x="351.30" y="401.60" width="5.9" height="5.9"/>
<rect x="358.25" y="401.60" width="5.9" height="5.9"/>
<rect x="351.30" y="408.55" width="5.9" height="5.9"/>
<rect x="358.25" y="408.55" width="5.9" height="5.9"/>
<rect x="351.30" y="415.50" width="5.9" height="5.9"/>
<rect x="358.25" y="415.50" width="5.9" height="5.9"/>
<rect x="365.20" y="415.50" width="5.9" height="5.9"/>
<rect x="372.15" y="415.50" width="5.9" height="5.9"/>
</g>
<g fill="#dedede">
<rect x="369.20" y="216.00" width="5.9" height="5.9"/>
<rect x="376.15" y="216.00" width="5.9" height="5.9"/>
<rect x="383.10" y="216.00" width="5.9" height="5.9"/>
<rect x="369.20" y="222.95" width="5.9" height="5.9"/>
<rect x="376.15" y="222.95" width="5.9" height="5.9"/>
<rect x="383.10" y="222.95" width="5.9" height="5.9"/>
<rect x="376.15" y="229.90" width="5.9" height="5.9"/>
<rect x="383.10" y="229.90" width="5.9" height="5.9"/>
<rect x="376.15" y="236.85" width="5.9" height="5.9"/>
<rect x="383.10" y="236.85" width="5.9" height="5.9"/>
</g>
<g fill="#dedede">
<rect x="381.05" y="268.80" width="5.9" height="5.9"/>
<rect x="388.00" y="268.80" width="5.9" height="5.9"/>
<rect x="394.95" y="268.80" width="5.9" height="5.9"/>
<rect x="374.10" y="275.75" width="5.9" height="5.9"/>
<rect x="381.05" y="275.75" width="5.9" height="5.9"/>
<rect x="388.00" y="275.75" width="5.9" height="5.9"/>
<rect x="394.95" y="275.75" width="5.9" height="5.9"/>
<rect x="374.10" y="282.70" width="5.9" height="5.9"/>
<rect x="381.05" y="282.70" width="5.9" height="5.9"/>
<rect x="388.00" y="282.70" width="5.9" height="5.9"/>
<rect x="394.95" y="282.70" width="5.9" height="5.9"/>
<rect x="381.05" y="289.65" width="5.9" height="5.9"/>
<rect x="388.00" y="289.65" width="5.9" height="5.9"/>
<rect x="394.95" y="289.65" width="5.9" height="5.9"/>
<rect x="381.05" y="296.60" width="5.9" height="5.9"/>
<rect x="388.00" y="296.60" width="5.9" height="5.9"/>
<rect x="394.95" y="296.60" width="5.9" height="5.9"/>
<rect x="388.00" y="303.55" width="5.9" height="5.9"/>
<rect x="394.95" y="303.55" width="5.9" height="5.9"/>
</g>
<g fill="#80b7e2">
<rect x="418.20" y="224.30" width="5.9" height="5.9"/>
<rect x="425.15" y="224.30" width="5.9" height="5.9"/>
<rect x="432.10" y="224.30" width="5.9" height="5.9"/>
<rect x="418.20" y="231.25" width="5.9" height="5.9"/>
<rect x="425.15" y="231.25" width="5.9" height="5.9"/>
<rect x="432.10" y="231.25" width="5.9" height="5.9"/>
<rect x="439.05" y="231.25" width="5.9" height="5.9"/>
<rect x="418.20" y="238.20" width="5.9" height="5.9"/>
<rect x="425.15" y="238.20" width="5.9" height="5.9"/>
<rect x="432.10" y="238.20" width="5.9" height="5.9"/>
<rect x="439.05" y="238.20" width="5.9" height="5.9"/>
<rect x="418.20" y="245.15" width="5.9" height="5.9"/>
<rect x="425.15" y="245.15" width="5.9" height="5.9"/>
<rect x="432.10" y="245.15" width="5.9" height="5.9"/>
<rect x="439.05" y="245.15" width="5.9" height="5.9"/>
</g>
<g fill="#c9082e">
<rect x="413.50" y="269.20" width="5.9" height="5.9"/>
<rect x="420.45" y="269.20" width="5.9" height="5.9"/>
<rect x="413.50" y="276.15" width="5.9" height="5.9"/>
<rect x="420.45" y="276.15" width="5.9" height="5.9"/>
<rect x="413.50" y="283.10" width="5.9" height="5.9"/>
<rect x="420.45" y="283.10" width="5.9" height="5.9"/>
<rect x="413.50" y="290.05" width="5.9" height="5.9"/>
<rect x="420.45" y="290.05" width="5.9" height="5.9"/>
<rect x="413.50" y="297.00" width="5.9" height="5.9"/>
<rect x="420.45" y="297.00" width="5.9" height="5.9"/>
<rect x="413.50" y="303.95" width="5.9" height="5.9"/>
</g>
<g fill="#80b7e2">
<rect x="441.20" y="262.20" width="5.9" height="5.9"/>
<rect x="462.05" y="262.20" width="5.9" height="5.9"/>
<rect x="441.20" y="269.15" width="5.9" height="5.9"/>
<rect x="448.15" y="269.15" width="5.9" height="5.9"/>
<rect x="455.10" y="269.15" width="5.9" height="5.9"/>
<rect x="462.05" y="269.15" width="5.9" height="5.9"/>
<rect x="441.20" y="276.10" width="5.9" height="5.9"/>
<rect x="448.15" y="276.10" width="5.9" height="5.9"/>
<rect x="455.10" y="276.10" width="5.9" height="5.9"/>
<rect x="462.05" y="276.10" width="5.9" height="5.9"/>
<rect x="441.20" y="283.05" width="5.9" height="5.9"/>
<rect x="448.15" y="283.05" width="5.9" height="5.9"/>
<rect x="455.10" y="283.05" width="5.9" height="5.9"/>
<rect x="462.05" y="283.05" width="5.9" height="5.9"/>
<rect x="441.20" y="290.00" width="5.9" height="5.9"/>
<rect x="448.15" y="290.00" width="5.9" height="5.9"/>
<rect x="455.10" y="290.00" width="5.9" height="5.9"/>
</g>
<g fill="#c9082e">
<rect x="430.10" y="311.50" width="5.9" height="5.9"/>
<rect x="437.05" y="311.50" width="5.9" height="5.9"/>
<rect x="444.00" y="311.50" width="5.9" height="5.9"/>
<rect x="416.20" y="318.45" width="5.9" height="5.9"/>
<rect x="423.15" y="318.45" width="5.9" height="5.9"/>
<rect x="430.10" y="318.45" width="5.9" height="5.9"/>
<rect x="437.05" y="318.45" width="5.9" height="5.9"/>
<rect x="444.00" y="318.45" width="5.9" height="5.9"/>
</g>
<g fill="#c9082e">
<rect x="403.30" y="336.50" width="5.9" height="5.9"/>
<rect x="410.25" y="336.50" width="5.9" height="5.9"/>
<rect x="417.20" y="336.50" width="5.9" height="5.9"/>
<rect x="424.15" y="336.50" width="5.9" height="5.9"/>
<rect x="431.10" y="336.50" width="5.9" height="5.9"/>
<rect x="438.05" y="336.50" width="5.9" height="5.9"/>
<rect x="445.00" y="336.50" width="5.9" height="5.9"/>
<rect x="403.30" y="343.45" width="5.9" height="5.9"/>
<rect x="410.25" y="343.45" width="5.9" height="5.9"/>
<rect x="417.20" y="343.45" width="5.9" height="5.9"/>
<rect x="424.15" y="343.45" width="5.9" height="5.9"/>
</g>
<g fill="#c9082e">
<rect x="385.60" y="376.70" width="5.9" height="5.9"/>
<rect x="392.55" y="376.70" width="5.9" height="5.9"/>
<rect x="385.60" y="383.65" width="5.9" height="5.9"/>
<rect x="392.55" y="383.65" width="5.9" height="5.9"/>
<rect x="385.60" y="390.60" width="5.9" height="5.9"/>
<rect x="392.55" y="390.60" width="5.9" height="5.9"/>
</g>
<g fill="#c9082e">
<rect x="415.50" y="373.40" width="5.9" height="5.9"/>
<rect x="422.45" y="373.40" width="5.9" height="5.9"/>
<rect x="415.50" y="380.35" width="5.9" height="5.9"/>
<rect x="422.45" y="380.35" width="5.9" height="5.9"/>
<rect x="429.40" y="380.35" width="5.9" height="5.9"/>
<rect x="415.50" y="387.30" width="5.9" height="5.9"/>
<rect x="422.45" y="387.30" width="5.9" height="5.9"/>
<rect x="429.40" y="387.30" width="5.9" height="5.9"/>
<rect x="415.50" y="394.25" width="5.9" height="5.9"/>
</g>
<g fill="#e88a9e">
<rect x="452.30" y="366.00" width="5.9" height="5.9"/>
<rect x="459.25" y="366.00" width="5.9" height="5.9"/>
<rect x="452.30" y="372.95" width="5.9" height="5.9"/>
<rect x="459.25" y="372.95" width="5.9" height="5.9"/>
<rect x="466.20" y="372.95" width="5.9" height="5.9"/>
<rect x="452.30" y="379.90" width="5.9" height="5.9"/>
<rect x="459.25" y="379.90" width="5.9" height="5.9"/>
<rect x="466.20" y="379.90" width="5.9" height="5.9"/>
<rect x="452.30" y="386.85" width="5.9" height="5.9"/>
<rect x="459.25" y="386.85" width="5.9" height="5.9"/>
<rect x="466.20" y="386.85" width="5.9" height="5.9"/>
<rect x="473.15" y="386.85" width="5.9" height="5.9"/>
<rect x="452.30" y="393.80" width="5.9" height="5.9"/>
<rect x="459.25" y="393.80" width="5.9" height="5.9"/>
<rect x="466.20" y="393.80" width="5.9" height="5.9"/>
<rect x="473.15" y="393.80" width="5.9" height="5.9"/>
</g>
<g fill="#c9082e">
<rect x="439.80" y="411.30" width="5.9" height="5.9"/>
<rect x="446.75" y="411.30" width="5.9" height="5.9"/>
<rect x="453.70" y="411.30" width="5.9" height="5.9"/>
<rect x="460.65" y="411.30" width="5.9" height="5.9"/>
<rect x="467.60" y="411.30" width="5.9" height="5.9"/>
<rect x="474.55" y="411.30" width="5.9" height="5.9"/>
<rect x="481.50" y="411.30" width="5.9" height="5.9"/>
<rect x="474.55" y="418.25" width="5.9" height="5.9"/>
<rect x="481.50" y="418.25" width="5.9" height="5.9"/>
<rect x="488.45" y="418.25" width="5.9" height="5.9"/>
<rect x="474.55" y="425.20" width="5.9" height="5.9"/>
<rect x="481.50" y="425.20" width="5.9" height="5.9"/>
<rect x="488.45" y="425.20" width="5.9" height="5.9"/>
<rect x="481.50" y="432.15" width="5.9" height="5.9"/>
<rect x="488.45" y="432.15" width="5.9" height="5.9"/>
<rect x="495.40" y="432.15" width="5.9" height="5.9"/>
<rect x="481.50" y="439.10" width="5.9" height="5.9"/>
<rect x="488.45" y="439.10" width="5.9" height="5.9"/>
<rect x="495.40" y="439.10" width="5.9" height="5.9"/>
<rect x="481.50" y="446.05" width="5.9" height="5.9"/>
<rect x="488.45" y="446.05" width="5.9" height="5.9"/>
<rect x="495.40" y="446.05" width="5.9" height="5.9"/>
<rect x="502.35" y="446.05" width="5.9" height="5.9"/>
<rect x="488.45" y="453.00" width="5.9" height="5.9"/>
<rect x="495.40" y="453.00" width="5.9" height="5.9"/>
<rect x="502.35" y="453.00" width="5.9" height="5.9"/>
<rect x="495.40" y="459.95" width="5.9" height="5.9"/>
<rect x="502.35" y="459.95" width="5.9" height="5.9"/>
<rect x="509.30" y="459.95" width="5.9" height="5.9"/>
<rect x="502.35" y="466.90" width="5.9" height="5.9"/>
</g>
<g fill="#c9082e">
<rect x="478.30" y="353.60" width="5.9" height="5.9"/>
<rect x="485.25" y="353.60" width="5.9" height="5.9"/>
<rect x="492.20" y="353.60" width="5.9" height="5.9"/>
<rect x="499.15" y="353.60" width="5.9" height="5.9"/>
<rect x="485.25" y="360.55" width="5.9" height="5.9"/>
<rect x="492.20" y="360.55" width="5.9" height="5.9"/>
<rect x="499.15" y="360.55" width="5.9" height="5.9"/>
<rect x="485.25" y="367.50" width="5.9" height="5.9"/>
<rect x="492.20" y="367.50" width="5.9" height="5.9"/>
</g>
<g fill="#80b7e2">
<rect x="486.90" y="327.30" width="5.9" height="5.9"/>
<rect x="493.85" y="327.30" width="5.9" height="5.9"/>
<rect x="500.80" y="327.30" width="5.9" height="5.9"/>
<rect x="507.75" y="327.30" width="5.9" height="5.9"/>
<rect x="514.70" y="327.30" width="5.9" height="5.9"/>
<rect x="521.65" y="327.30" width="5.9" height="5.9"/>
<rect x="473.00" y="334.25" width="5.9" height="5.9"/>
<rect x="479.95" y="334.25" width="5.9" height="5.9"/>
<rect x="486.90" y="334.25" width="5.9" height="5.9"/>
<rect x="493.85" y="334.25" width="5.9" height="5.9"/>
<rect x="500.80" y="334.25" width="5.9" height="5.9"/>
<rect x="507.75" y="334.25" width="5.9" height="5.9"/>
<rect x="514.70" y="334.25" width="5.9" height="5.9"/>
<rect x="521.65" y="334.25" width="5.9" height="5.9"/>
<rect x="514.70" y="341.20" width="5.9" height="5.9"/>
<rect x="521.65" y="341.20" width="5.9" height="5.9"/>
</g>
<g fill="#80b7e2">
<rect x="507.55" y="297.30" width="5.9" height="5.9"/>
<rect x="514.50" y="297.30" width="5.9" height="5.9"/>
<rect x="521.45" y="297.30" width="5.9" height="5.9"/>
<rect x="500.60" y="304.25" width="5.9" height="5.9"/>
<rect x="507.55" y="304.25" width="5.9" height="5.9"/>
<rect x="514.50" y="304.25" width="5.9" height="5.9"/>
<rect x="521.45" y="304.25" width="5.9" height="5.9"/>
<rect x="486.70" y="311.20" width="5.9" height="5.9"/>
<rect x="493.65" y="311.20" width="5.9" height="5.9"/>
<rect x="500.60" y="311.20" width="5.9" height="5.9"/>
<rect x="507.55" y="311.20" width="5.9" height="5.9"/>
<rect x="514.50" y="311.20" width="5.9" height="5.9"/>
<rect x="521.45" y="311.20" width="5.9" height="5.9"/>
</g>
<g fill="#c9082e">
<rect x="471.10" y="294.10" width="5.9" height="5.9"/>
<rect x="478.05" y="294.10" width="5.9" height="5.9"/>
<rect x="471.10" y="301.05" width="5.9" height="5.9"/>
<rect x="478.05" y="301.05" width="5.9" height="5.9"/>
</g>
<g fill="#1375c9">
<rect x="489.50" y="278.60" width="5.9" height="5.9"/>
<rect x="496.45" y="278.60" width="5.9" height="5.9"/>
<rect x="503.40" y="278.60" width="5.9" height="5.9"/>
<rect x="510.35" y="278.60" width="5.9" height="5.9"/>
<rect x="517.30" y="278.60" width="5.9" height="5.9"/>
<rect x="489.50" y="285.55" width="5.9" height="5.9"/>
<rect x="496.45" y="285.55" width="5.9" height="5.9"/>
<rect x="503.40" y="285.55" width="5.9" height="5.9"/>
<rect x="510.35" y="285.55" width="5.9" height="5.9"/>
<rect x="517.30" y="285.55" width="5.9" height="5.9"/>
</g>
<g fill="#dedede">
<rect x="547.40" y="281.30" width="5.9" height="5.9"/>
<rect x="554.35" y="281.30" width="5.9" height="5.9"/>
<rect x="561.30" y="281.30" width="5.9" height="5.9"/>
</g>
<g fill="#dedede">
<rect x="547.40" y="292.70" width="5.9" height="5.9"/>
<rect x="554.35" y="292.70" width="5.9" height="5.9"/>
<rect x="561.30" y="292.70" width="5.9" height="5.9"/>
</g>
<g fill="#80b7e2">
<rect x="481.70" y="245.90" width="5.9" height="5.9"/>
<rect x="481.70" y="252.85" width="5.9" height="5.9"/>
<rect x="488.65" y="252.85" width="5.9" height="5.9"/>
<rect x="495.60" y="252.85" width="5.9" height="5.9"/>
<rect x="502.55" y="252.85" width="5.9" height="5.9"/>
<rect x="509.50" y="252.85" width="5.9" height="5.9"/>
<rect x="516.45" y="252.85" width="5.9" height="5.9"/>
<rect x="481.70" y="259.80" width="5.9" height="5.9"/>
<rect x="488.65" y="259.80" width="5.9" height="5.9"/>
<rect x="495.60" y="259.80" width="5.9" height="5.9"/>
<rect x="502.55" y="259.80" width="5.9" height="5.9"/>
<rect x="509.50" y="259.80" width="5.9" height="5.9"/>
<rect x="516.45" y="259.80" width="5.9" height="5.9"/>
<rect x="481.70" y="266.75" width="5.9" height="5.9"/>
<rect x="488.65" y="266.75" width="5.9" height="5.9"/>
<rect x="495.60" y="266.75" width="5.9" height="5.9"/>
<rect x="502.55" y="266.75" width="5.9" height="5.9"/>
<rect x="509.50" y="266.75" width="5.9" height="5.9"/>
<rect x="516.45" y="266.75" width="5.9" height="5.9"/>
</g>
<g fill="#80b7e2">
<rect x="532.90" y="254.50" width="5.9" height="5.9"/>
<rect x="539.85" y="254.50" width="5.9" height="5.9"/>
<rect x="546.80" y="254.50" width="5.9" height="5.9"/>
<rect x="553.75" y="254.50" width="5.9" height="5.9"/>
<rect x="532.90" y="261.45" width="5.9" height="5.9"/>
<rect x="539.85" y="261.45" width="5.9" height="5.9"/>
<rect x="546.80" y="261.45" width="5.9" height="5.9"/>
<rect x="553.75" y="261.45" width="5.9" height="5.9"/>
<rect x="560.70" y="261.45" width="5.9" height="5.9"/>
<rect x="532.90" y="268.40" width="5.9" height="5.9"/>
<rect x="539.85" y="268.40" width="5.9" height="5.9"/>
<rect x="546.80" y="268.40" width="5.9" height="5.9"/>
<rect x="553.75" y="268.40" width="5.9" height="5.9"/>
<rect x="560.70" y="268.40" width="5.9" height="5.9"/>
</g>
<g fill="#dedede">
<rect x="511.40" y="202.20" width="5.9" height="5.9"/>
<rect x="518.35" y="202.20" width="5.9" height="5.9"/>
<rect x="525.30" y="202.20" width="5.9" height="5.9"/>
<rect x="532.25" y="202.20" width="5.9" height="5.9"/>
<rect x="511.40" y="209.15" width="5.9" height="5.9"/>
<rect x="518.35" y="209.15" width="5.9" height="5.9"/>
<rect x="525.30" y="209.15" width="5.9" height="5.9"/>
<rect x="532.25" y="209.15" width="5.9" height="5.9"/>
<rect x="511.40" y="216.10" width="5.9" height="5.9"/>
<rect x="518.35" y="216.10" width="5.9" height="5.9"/>
<rect x="525.30" y="216.10" width="5.9" height="5.9"/>
<rect x="532.25" y="216.10" width="5.9" height="5.9"/>
<rect x="490.55" y="223.05" width="5.9" height="5.9"/>
<rect x="497.50" y="223.05" width="5.9" height="5.9"/>
<rect x="504.45" y="223.05" width="5.9" height="5.9"/>
<rect x="511.40" y="223.05" width="5.9" height="5.9"/>
<rect x="518.35" y="223.05" width="5.9" height="5.9"/>
<rect x="525.30" y="223.05" width="5.9" height="5.9"/>
<rect x="532.25" y="223.05" width="5.9" height="5.9"/>
<rect x="483.60" y="230.00" width="5.9" height="5.9"/>
<rect x="490.55" y="230.00" width="5.9" height="5.9"/>
<rect x="497.50" y="230.00" width="5.9" height="5.9"/>
<rect x="504.45" y="230.00" width="5.9" height="5.9"/>
<rect x="511.40" y="230.00" width="5.9" height="5.9"/>
<rect x="518.35" y="230.00" width="5.9" height="5.9"/>
<rect x="525.30" y="230.00" width="5.9" height="5.9"/>
<rect x="532.25" y="230.00" width="5.9" height="5.9"/>
<rect x="532.25" y="236.95" width="5.9" height="5.9"/>
</g>
<g fill="#1375c9">
<rect x="548.85" y="237.30" width="5.9" height="5.9"/>
<rect x="555.80" y="237.30" width="5.9" height="5.9"/>
<rect x="562.75" y="237.30" width="5.9" height="5.9"/>
<rect x="541.90" y="244.25" width="5.9" height="5.9"/>
<rect x="548.85" y="244.25" width="5.9" height="5.9"/>
<rect x="555.80" y="244.25" width="5.9" height="5.9"/>
<rect x="562.75" y="244.25" width="5.9" height="5.9"/>
</g>
<g fill="#1375c9">
<rect x="577.30" y="250.40" width="5.9" height="5.9"/>
<rect x="584.25" y="250.40" width="5.9" height="5.9"/>
<rect x="577.30" y="257.35" width="5.9" height="5.9"/>
<rect x="584.25" y="257.35" width="5.9" height="5.9"/>
</g>
<g fill="#1375c9">
<rect x="548.90" y="219.40" width="5.9" height="5.9"/>
<rect x="555.85" y="219.40" width="5.9" height="5.9"/>
<rect x="562.80" y="219.40" width="5.9" height="5.9"/>
<rect x="569.75" y="219.40" width="5.9" height="5.9"/>
<rect x="576.70" y="219.40" width="5.9" height="5.9"/>
<rect x="548.90" y="226.35" width="5.9" height="5.9"/>
<rect x="555.85" y="226.35" width="5.9" height="5.9"/>
<rect x="562.80" y="226.35" width="5.9" height="5.9"/>
<rect x="569.75" y="226.35" width="5.9" height="5.9"/>
<rect x="576.70" y="226.35" width="5.9" height="5.9"/>
<rect x="583.65" y="226.35" width="5.9" height="5.9"/>
</g>
<g fill="#1375c9">
<rect x="541.40" y="194.50" width="5.9" height="5.9"/>
<rect x="541.40" y="201.45" width="5.9" height="5.9"/>
<rect x="541.40" y="208.40" width="5.9" height="5.9"/>
</g>
<g fill="#80b7e2">
<rect x="559.25" y="194.30" width="5.9" height="5.9"/>
<rect x="559.25" y="201.25" width="5.9" height="5.9"/>
<rect x="552.30" y="208.20" width="5.9" height="5.9"/>
<rect x="559.25" y="208.20" width="5.9" height="5.9"/>
</g>
<g fill="#dedede">
<rect x="565.40" y="174.20" width="5.9" height="5.9"/>
<rect x="572.35" y="174.20" width="5.9" height="5.9"/>
<rect x="565.40" y="181.15" width="5.9" height="5.9"/>
<rect x="572.35" y="181.15" width="5.9" height="5.9"/>
</g>
<g fill="#dedede">
<rect x="74.40" y="432.90" width="5.9" height="5.9"/>
<rect x="81.35" y="432.90" width="5.9" height="5.9"/>
<rect x="88.30" y="432.90" width="5.9" height="5.9"/>
</g>
<g fill="#dedede">
<rect x="183.20" y="467.40" width="5.9" height="5.9"/>
<rect x="190.15" y="467.40" width="5.9" height="5.9"/>
<rect x="183.20" y="474.35" width="5.9" height="5.9"/>
<rect x="190.15" y="474.35" width="5.9" height="5.9"/>
</g>
<text class="lb lt" filter="url(#halo)" transform="translate(99.2 147.8) scale(0.899 1)">WA</text>
<text class="lb lt" filter="url(#halo)" transform="translate(80.3 195.0) scale(0.825 1)">OR</text>
<text class="lb lt" filter="url(#halo)" transform="translate(55.6 242.9) scale(0.839 1)">CA</text>
<text class="lb lt" filter="url(#halo)" transform="translate(102.2 262.8) scale(0.886 1)">NV</text>
<text class="lb lt" filter="url(#halo)" transform="translate(136.6 209.6) scale(0.835 1)">ID</text>
<text class="lb lt" filter="url(#halo)" transform="translate(194.7 175.8) scale(0.942 1)">MT</text>
<text class="lb lt" filter="url(#halo)" transform="translate(204.7 234.9) scale(0.866 1)">WY</text>
<text class="lb lt" filter="url(#halo)" transform="translate(156.3 274.8) scale(0.846 1)">UT</text>
<text class="lb lt" filter="url(#halo)" transform="translate(217.7 288.7) scale(0.806 1)">CO</text>
<text class="lb lt" filter="url(#halo)" transform="translate(142.7 335.9) scale(0.832 1)">AZ</text>
<text class="lb lt" filter="url(#halo)" transform="translate(206.3 347.8) scale(0.910 1)">NM</text>
<text class="lb lt" filter="url(#halo)" transform="translate(282.7 181.7) scale(0.890 1)">ND</text>
<text class="lb lt" filter="url(#halo)" transform="translate(279.5 220.9) scale(0.817 1)">SD</text>
<text class="lb lt" filter="url(#halo)" transform="translate(283.5 260.8) scale(0.817 1)">NE</text>
<text class="lb lt" filter="url(#halo)" transform="translate(293.7 300.0) scale(0.811 1)">KS</text>
<text class="lb lt" filter="url(#halo)" transform="translate(304.0 342.9) scale(0.812 1)">OK</text>
<text class="lb lt" filter="url(#halo)" transform="translate(272.4 375.7) scale(0.810 1)">TX</text>
<text class="lb lt" filter="url(#halo)" transform="translate(333.0 192.7) scale(0.891 1)">MN</text>
<text class="lb lt" filter="url(#halo)" transform="translate(344.1 251.8) scale(0.817 1)">IA</text>
<text class="lb lt" filter="url(#halo)" transform="translate(352.7 298.8) scale(0.836 1)">MO</text>
<text class="lb lt" filter="url(#halo)" transform="translate(358.4 348.2) scale(0.770 1)">AR</text>
<text class="lb lt" filter="url(#halo)" transform="translate(356.7 396.6) scale(0.810 1)">LA</text>
<text class="lb lt" filter="url(#halo)" transform="translate(377.8 211.4) scale(0.894 1)">WI</text>
<text class="lb lt" filter="url(#halo)" transform="translate(391.5 263.7) scale(0.826 1)">IL</text>
<text class="lb lt" filter="url(#halo)" transform="translate(430.0 219.5) scale(0.909 1)">MI</text>
<text class="lb lt" filter="url(#halo)" transform="translate(420.8 266.7) scale(0.816 1)">IN</text>
<text class="lb lt" filter="url(#halo)" transform="translate(455.3 264.8) scale(0.819 1)">OH</text>
<text class="lb lt" filter="url(#halo)" transform="translate(442.3 309.0) scale(0.776 1)">KY</text>
<text class="lb lt" filter="url(#halo)" transform="translate(396.1 347.8) scale(0.825 1)">TN</text>
<text class="lb lt" filter="url(#halo)" transform="translate(391.6 372.8) scale(0.850 1)">MS</text>
<text class="lb lt" filter="url(#halo)" transform="translate(421.0 369.2) scale(0.787 1)">AL</text>
<text class="lb lt" filter="url(#halo)" transform="translate(455.4 361.6) scale(0.793 1)">GA</text>
<text class="lb lt" filter="url(#halo)" transform="translate(433.3 416.9) scale(0.729 1)">FL</text>
<text class="lb lt" filter="url(#halo)" transform="translate(515.9 368.7) scale(0.763 1)">SC</text>
<text class="lb lt" filter="url(#halo)" transform="translate(536.6 341.9) scale(0.825 1)">NC</text>
<text class="lb lt" filter="url(#halo)" transform="translate(536.1 312.0) scale(0.861 1)">VA</text>
<text class="lb lt" filter="url(#halo)" transform="translate(479.3 290.7) scale(0.848 1)">WV</text>
<text class="lb lt" filter="url(#halo)" transform="translate(533.9 287.7) scale(0.861 1)">MD</text>
<text class="lb lt" filter="url(#halo)" transform="translate(575.0 287.1) scale(0.804 1)">DE</text>
<text class="lb lt" filter="url(#halo)" transform="translate(575.0 297.7) scale(0.785 1)">DC</text>
<text class="lb lt" filter="url(#halo)" transform="translate(517.1 248.8) scale(0.772 1)">PA</text>
<text class="lb lt" filter="url(#halo)" transform="translate(574.5 273.8) scale(0.886 1)">NJ</text>
<text class="lb lt" filter="url(#halo)" transform="translate(501.8 220.0) scale(0.817 1)">NY</text>
<text class="lb lt" filter="url(#halo)" transform="translate(577.3 245.8) scale(0.811 1)">CT</text>
<text class="lb lt" filter="url(#halo)" transform="translate(597.0 258.8) scale(0.770 1)">RI</text>
<text class="lb lt" filter="url(#halo)" transform="translate(594.7 224.9) scale(0.894 1)">MA</text>
<text class="lb lt" filter="url(#halo)" transform="translate(544.5 189.7) scale(0.803 1)">VT</text>
<text class="lb lt" filter="url(#halo)" transform="translate(576.0 211.6) scale(0.825 1)">NH</text>
<text class="lb lt" filter="url(#halo)" transform="translate(572.7 169.8) scale(0.863 1)">ME</text>
<text class="lb lt" filter="url(#halo)" transform="translate(84.5 427.5) scale(0.882 1)">AK</text>
<text class="lb lt" filter="url(#halo)" transform="translate(176.1 476.7) scale(0.872 1)">HI</text>
</svg></body></html>
